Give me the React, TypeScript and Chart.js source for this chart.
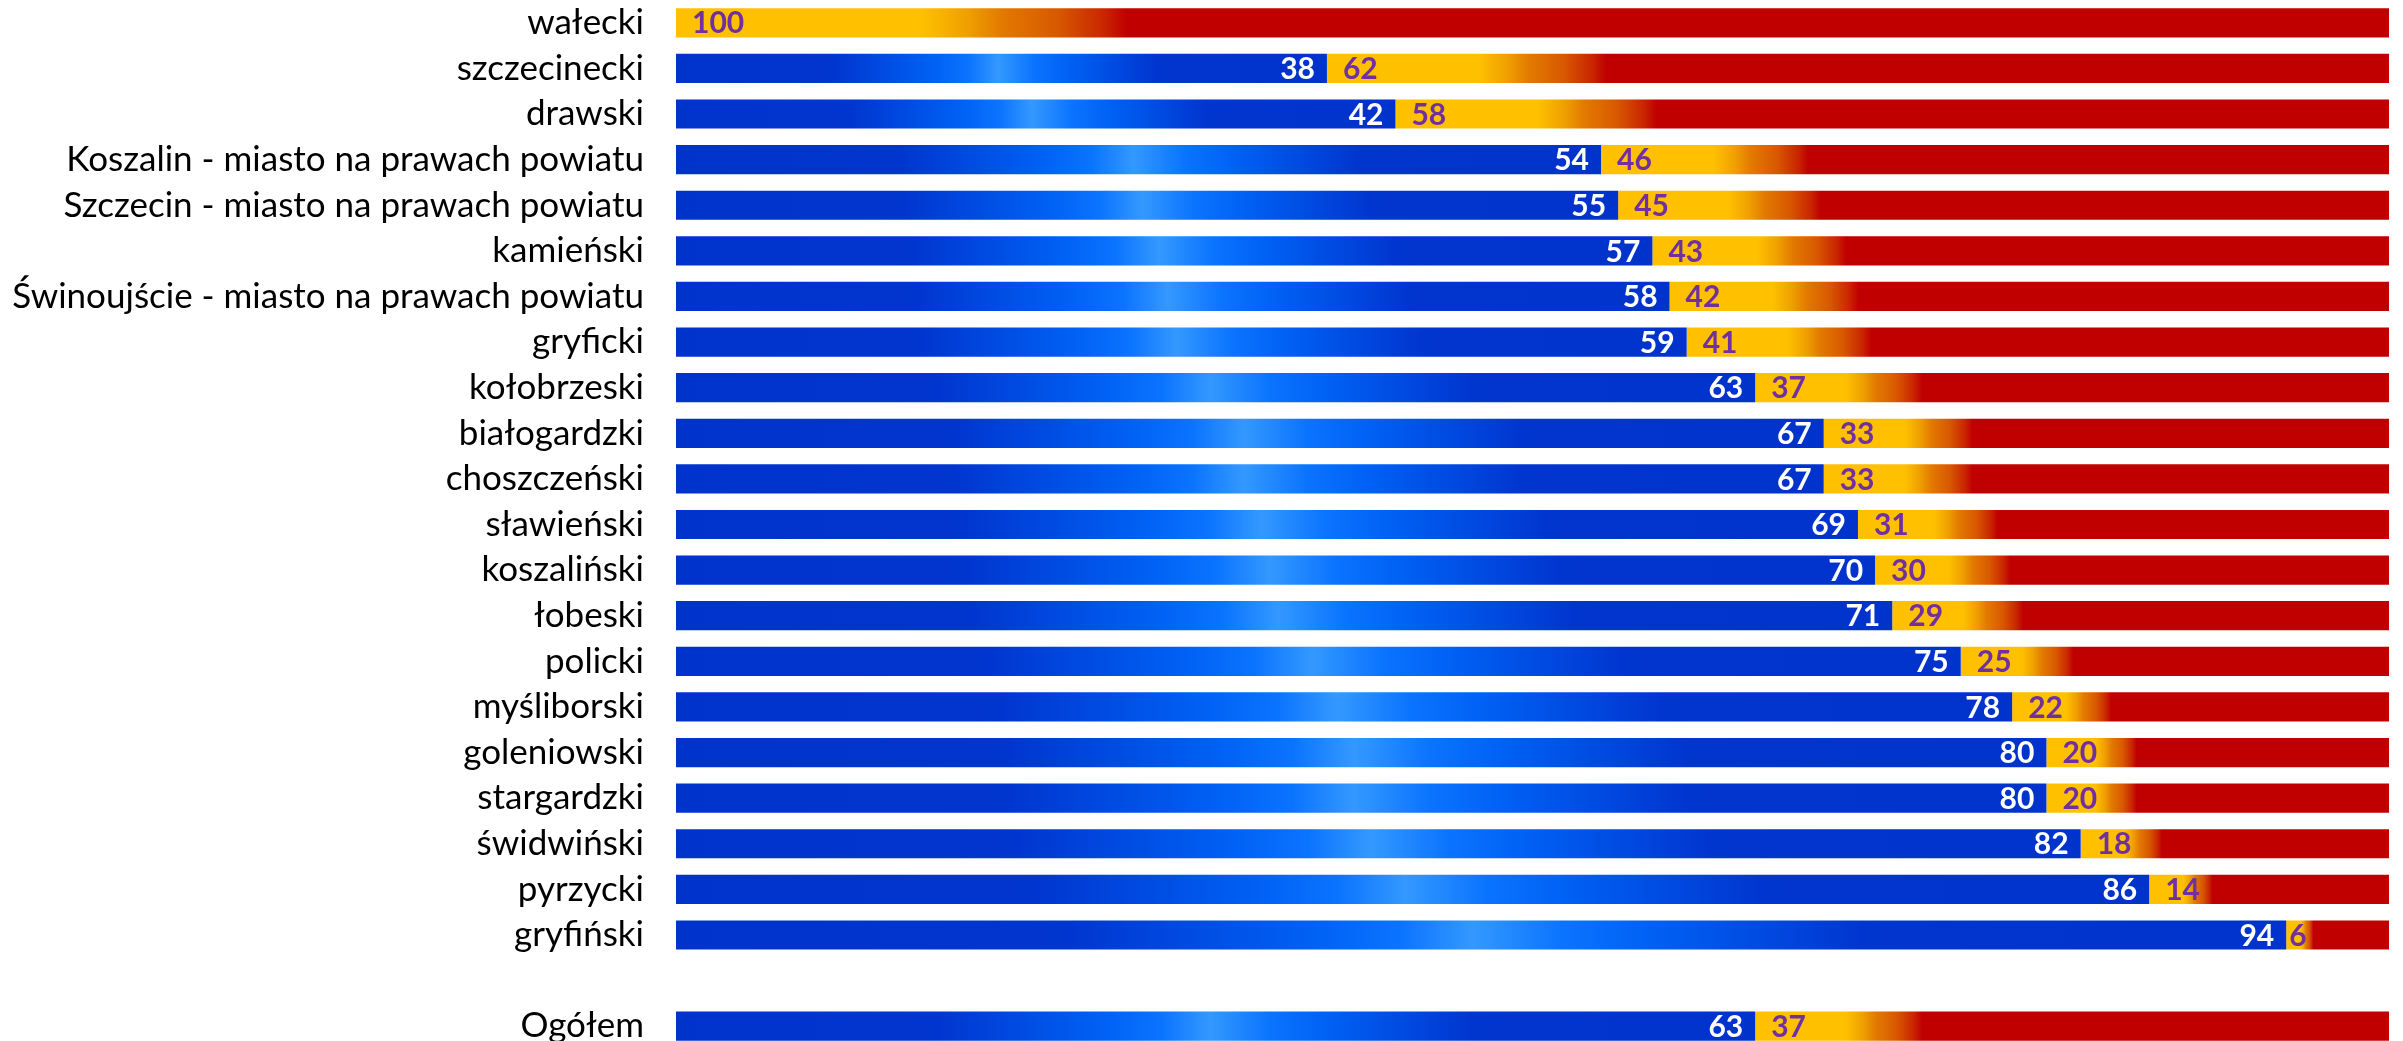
import React, { useEffect, useRef } from "react";
import { Chart, registerables } from "chart.js";

Chart.register(...registerables);

const categories = [
  "wałecki",
  "szczecinecki",
  "drawski",
  "Koszalin - miasto na prawach powiatu",
  "Szczecin - miasto na prawach powiatu",
  "kamieński",
  "Świnoujście - miasto na prawach powiatu",
  "gryficki",
  "kołobrzeski",
  "białogardzki",
  "choszczeński",
  "sławieński",
  "koszaliński",
  "łobeski",
  "policki",
  "myśliborski",
  "goleniowski",
  "stargardzki",
  "świdwiński",
  "pyrzycki",
  "gryfiński",
  "",
  "Ogółem",
];

const blueValues: (number | null)[] = [
  0, 38, 42, 54, 55, 57, 58, 59, 63, 67, 67, 69, 70, 71, 75, 78, 80, 80, 82, 86, 94, null, 63,
];

const yellowValues: (number | null)[] = [
  100, 62, 58, 46, 45, 43, 42, 41, 37, 33, 33, 31, 30, 29, 25, 22, 20, 20, 18, 14, 6, null, 37,
];

const LABEL_FONT = "Lato, 'Noto Sans', sans-serif";

function blueGradient(ctx: any) {
  const chart = ctx.chart;
  const i = ctx.dataIndex;
  if (!chart.chartArea || i === undefined) return "#0033CC";
  const xs = chart.scales.x;
  const x0 = xs.getPixelForValue(0);
  const x1 = xs.getPixelForValue(blueValues[i] ?? 0);
  if (x1 - x0 < 1) return "#0033CC";
  const g = chart.ctx.createLinearGradient(x0, 0, x1, 0);
  g.addColorStop(0, "#0033CC");
  g.addColorStop(0.24, "#0035CE");
  g.addColorStop(0.4, "#0062F6");
  g.addColorStop(0.45, "#0B74FF");
  g.addColorStop(0.495, "#3399FF");
  g.addColorStop(0.55, "#0B74FF");
  g.addColorStop(0.6, "#0062F6");
  g.addColorStop(0.74, "#0035CE");
  g.addColorStop(1, "#0033CC");
  return g;
}

function yellowGradient(ctx: any) {
  const chart = ctx.chart;
  const i = ctx.dataIndex;
  if (!chart.chartArea || i === undefined) return "#FFC000";
  const xs = chart.scales.x;
  const x0 = xs.getPixelForValue(blueValues[i] ?? 0);
  const x1 = xs.getPixelForValue((blueValues[i] ?? 0) + (yellowValues[i] ?? 0));
  if (x1 - x0 < 1) return "#FFC000";
  const g = chart.ctx.createLinearGradient(x0, 0, x1, 0);
  g.addColorStop(0, "#FFC000");
  g.addColorStop(0.143, "#FFC000");
  g.addColorStop(0.17, "#EFA000");
  g.addColorStop(0.19, "#E37A00");
  g.addColorStop(0.223, "#D85800");
  g.addColorStop(0.25, "#C92500");
  g.addColorStop(0.263, "#C00000");
  g.addColorStop(1, "#C00000");
  return g;
}

const valueLabels = {
  id: "valueLabels",
  afterDatasetsDraw(chart: any) {
    const c = chart.ctx;
    c.save();
    c.font = `bold 30px ${LABEL_FONT}`;
    c.textBaseline = "middle";
    chart.data.datasets.forEach((ds: any, di: number) => {
      const meta = chart.getDatasetMeta(di);
      meta.data.forEach((bar: any, i: number) => {
        const v = ds.data[i];
        if (v === null || v === undefined || v === 0) return;
        const { x, y, base } = bar.getProps(["x", "y", "base"], true);
        if (di === 0) {
          c.fillStyle = "#FFFFFF";
          c.textAlign = "right";
          c.fillText(String(v), x - 12, y + 1);
        } else {
          c.fillStyle = "#7030A0";
          c.textAlign = "left";
          const off = v < 10 ? 3 : 16;
          c.fillText(String(v), base + off, y + 1);
        }
      });
    });
    c.restore();
  },
};

export default function App() {
  const ref = useRef<HTMLCanvasElement | null>(null);

  useEffect(() => {
    if (!ref.current) return;
    const chart = new Chart(ref.current, {
      type: "bar",
      data: {
        labels: categories,
        datasets: [
          {
            label: "blue",
            data: blueValues,
            backgroundColor: blueGradient,
            borderWidth: 0,
            barPercentage: 0.64,
            categoryPercentage: 1,
          },
          {
            label: "yellow",
            data: yellowValues,
            backgroundColor: yellowGradient,
            borderWidth: 0,
            barPercentage: 0.64,
            categoryPercentage: 1,
          },
        ],
      },
      options: {
        indexAxis: "y",
        animation: false,
        responsive: false,
        maintainAspectRatio: false,
        layout: { padding: { left: 0, right: 14, top: 0, bottom: 0 } },
        plugins: {
          legend: { display: false },
          tooltip: { enabled: false },
        },
        scales: {
          x: {
            stacked: true,
            min: 0,
            max: 100,
            display: false,
          },
          y: {
            stacked: true,
            grid: { display: false, drawTicks: false },
            border: { display: false },
            ticks: {
              color: "#000000",
              padding: 32,
              autoSkip: false,
              font: { family: LABEL_FONT, size: 35 },
            },
            afterFit(scale: any) {
              scale.width = 676;
              scale.paddingTop = 0;
              scale.paddingBottom = 0;
            },
          },
        },
      },
      plugins: [valueLabels],
    });
    return () => chart.destroy();
  }, []);

  return (
    <div style={{ position: "fixed", left: 0, top: 0, width: 2403, height: 1049, background: "#fff" }}>
      <canvas ref={ref} width={2403} height={1049} />
    </div>
  );
}
